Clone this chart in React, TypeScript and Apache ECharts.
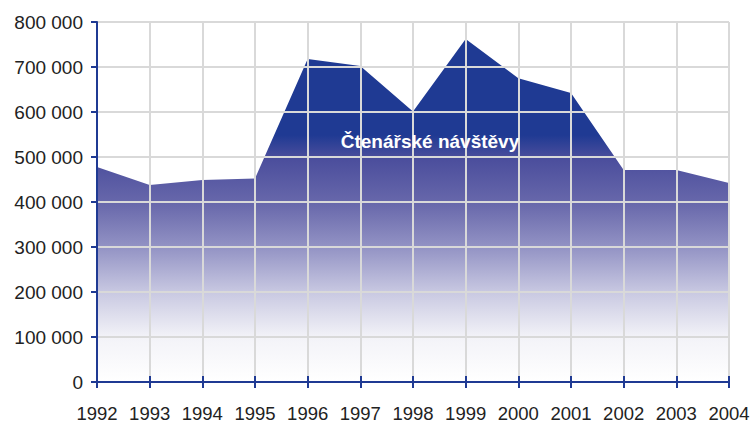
import React, { useEffect, useRef } from "react";
import * as echarts from "echarts";

const years = ["1992", "1993", "1994", "1995", "1996", "1997", "1998", "1999", "2000", "2001", "2002", "2003", "2004"];
const visits = [478000, 438000, 449000, 452000, 718000, 702000, 601000, 762000, 675000, 642000, 471000, 471000, 442000];
const seriesName = "Čtenářské návštěvy";

const fmt = (v: number) => {
  if (v === 0) return "0";
  const s = String(v);
  return s.replace(/\B(?=(\d{3})+(?!\d))/g, " ");
};

export default function App() {
  const ref = useRef<HTMLDivElement>(null);
  useEffect(() => {
    const chart = echarts.init(ref.current!, undefined, { renderer: "svg" });
    const axisBlue = "#1f3a93";
    const font = "Liberation Sans, Arial, sans-serif";
    chart.setOption({
      animation: false,
      backgroundColor: "#ffffff",
      textStyle: { fontFamily: font },
      grid: { left: 97, right: 25, top: 22, bottom: 43 },
      xAxis: [
        {
          type: "category",
          data: years,
          boundaryGap: false,
          position: "bottom",
          z: 3,
          axisLine: { show: true, lineStyle: { color: axisBlue, width: 2 } },
          axisTick: { show: true, interval: 0, length: 6, lineStyle: { color: axisBlue, width: 2 } },
          axisLabel: { color: "#222", fontSize: 18.5, margin: 22, interval: 0, hideOverlap: false, fontFamily: font },
          splitLine: { show: true, interval: 0, lineStyle: { color: "#d9d9d9", width: 2 } },
        },
        {
          type: "category",
          data: years,
          boundaryGap: false,
          position: "bottom",
          offset: 0,
          z: 3,
          axisLine: { show: false },
          axisTick: { show: true, interval: 0, inside: true, length: 6, lineStyle: { color: axisBlue, width: 2 } },
          axisLabel: { show: false },
          splitLine: { show: false },
        },
      ],
      yAxis: {
        type: "value",
        min: 0,
        max: 800000,
        interval: 100000,
        z: 3,
        axisLine: { show: true, lineStyle: { color: axisBlue, width: 2 } },
        axisTick: { show: true, length: 6, lineStyle: { color: axisBlue, width: 2 } },
        axisLabel: { color: "#222", fontSize: 19, margin: 14, formatter: fmt, fontFamily: font },
        splitLine: { show: true, lineStyle: { color: "#d9d9d9", width: 2 } },
      },
      graphic: [
        {
          type: "text",
          x: 430,
          y: 141,
          z: 10,
          style: {
            text: seriesName,
            fill: "#ffffff",
            align: "center",
            verticalAlign: "middle",
            font: "bold 19px 'Liberation Sans', Arial, sans-serif",
          },
        },
      ],
      series: [
        {
          name: seriesName,
          type: "line",
          data: visits,
          symbol: "none",
          lineStyle: { width: 0 },
          z: 2,
          areaStyle: {
            opacity: 1,
            color: new echarts.graphic.LinearGradient(0, 0, 0, 1, [
              { offset: 0, color: "#1f3a93" },
              { offset: 0.28, color: "#1f3a93" },
              { offset: 0.345, color: "#4a4d9c" },
              { offset: 0.48, color: "#6868ab" },
              { offset: 0.61, color: "#9494c5" },
              { offset: 0.74, color: "#c9c9e2" },
              { offset: 0.87, color: "#f3f3f8" },
              { offset: 1, color: "#ffffff" },
            ]),
          },
        },
      ],
    });
    return () => chart.dispose();
  }, []);
  return <div ref={ref} style={{ position: "absolute", left: 0, top: 0, width: 754, height: 425 }} />;
}
